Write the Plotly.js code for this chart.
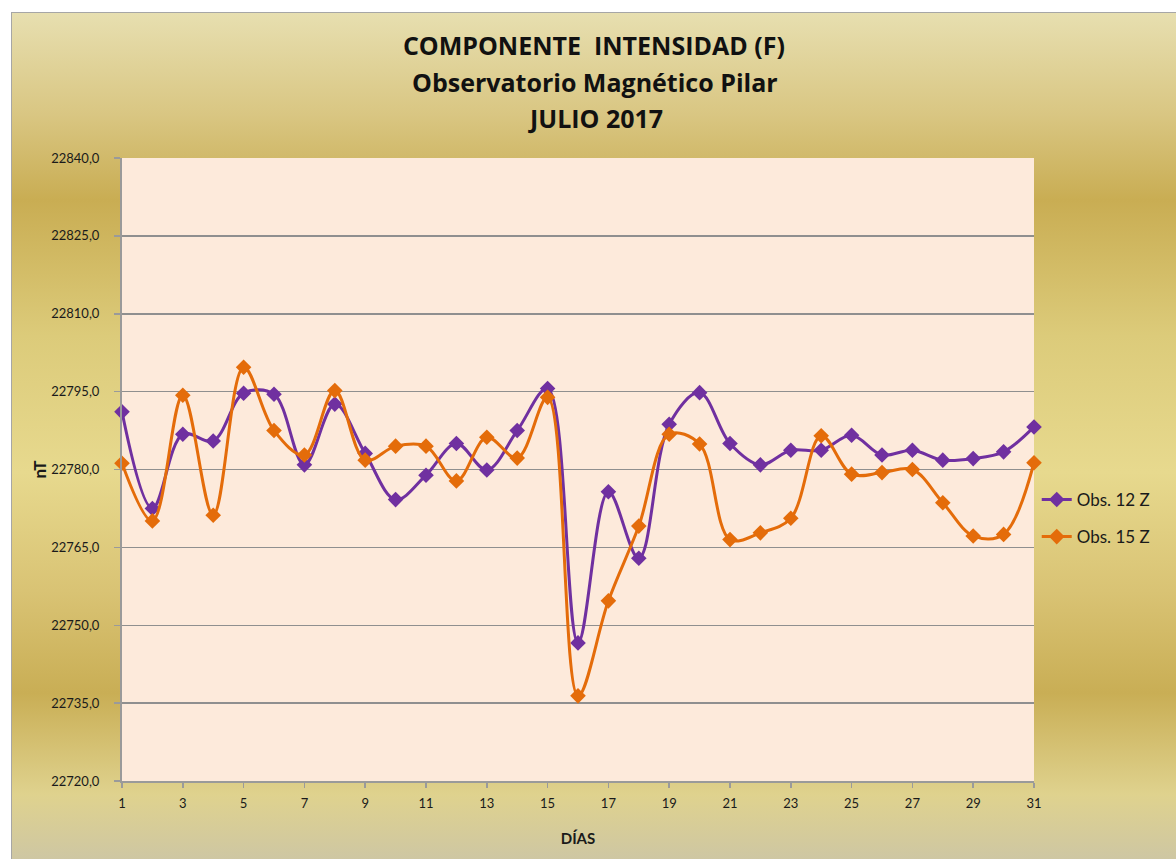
<!DOCTYPE html>
<html>
<head>
<meta charset="utf-8">
<script src="https://cdn.plot.ly/plotly-3.0.1.min.js"></script>
<style>
  html, body { margin:0; padding:0; background:#ffffff; width:1176px; height:859px; overflow:hidden; }
  #bg { position:absolute; left:11px; top:12px; width:1170px; height:852px; border:1px solid #a6a6a6; box-sizing:border-box;
        background: linear-gradient(to bottom, #e7dfb0 0%, #d9c682 12%, #c9ad53 22%, #dccb7a 38%, #e7d98e 54%, #d9c374 68%, #c9ae55 80%, #dfd28e 92%, #cdc6a4 100%); }
  #chart { position:absolute; left:0; top:0; width:1176px; height:859px; }
</style>
</head>
<body>
<div id="bg"></div>
<div id="chart"></div>
<script>
const days = [1,2,3,4,5,6,7,8,9,10,11,12,13,14,15,16,17,18,19,20,21,22,23,24,25,26,27,28,29,30,31];
const obs12Z = [22791.1,22772.5,22786.8,22785.5,22794.7,22794.5,22780.9,22792.6,22783.1,22774.2,22778.9,22785.0,22779.9,22787.5,22795.6,22746.6,22775.7,22762.9,22788.7,22794.8,22785.0,22780.9,22783.7,22783.7,22786.6,22782.8,22783.7,22781.8,22782.1,22783.4,22788.2];
const obs15Z = [22781.2,22770.1,22794.3,22771.2,22799.7,22787.5,22782.8,22795.2,22781.8,22784.5,22784.5,22777.8,22786.2,22782.2,22793.9,22736.4,22754.7,22769.1,22786.8,22784.9,22766.5,22767.8,22770.6,22786.5,22779.1,22779.4,22780.0,22773.6,22767.2,22767.5,22781.3];
const seriesNames = ['Obs. 12 Z', 'Obs. 15 Z'];
const titleLines = ['COMPONENTE  INTENSIDAD (F)', 'Observatorio Magnético Pilar', 'JULIO 2017'];
const yTicks = [22720,22735,22750,22765,22780,22795,22810,22825,22840];
const xTicks = [1,3,5,7,9,11,13,15,17,19,21,23,25,27,29,31];

const font = 'Lato, "Open Sans", "DejaVu Sans", sans-serif';
const tfont = '"Open Sans", Lato, sans-serif';
const tsize = 25;
function trace(y, name, color, grp) {
  return {
    x: days, y: y, name: name, type: 'scatter', mode: 'lines+markers',
    legendgroup: grp, cliponaxis: false,
    line: { color: color, width: 3, shape: 'spline', smoothing: 1 },
    marker: { symbol: 'diamond', size: 12, color: color }
  };
}
const data = [
  trace(obs12Z, seriesNames[0], '#7030a0', 'a'),
  trace(obs15Z, seriesNames[1], '#e46c0a', 'b')
];
const layout = {
  width: 1176, height: 859,
  paper_bgcolor: 'rgba(0,0,0,0)',
  plot_bgcolor: '#fdeadb',
  separators: ',.',
  margin: { l: 122, r: 142, t: 158, b: 78 },
  font: { family: font, color: '#1a1a1a' },
  title: {
    text: '<b>' + titleLines[0] + '</b>',
    font: { family: tfont, size: tsize, color: '#111' },
    x: 0.505, xanchor: 'center', xref: 'container',
    y: 1 - 46 / 859, yanchor: 'middle', yref: 'container'
  },
  annotations: [
    { text: '<b>' + titleLines[1] + '</b>', xref: 'paper', yref: 'paper', x: (595 - 122) / 912, y: (781 - 82) / 623,
      xanchor: 'center', yanchor: 'middle', showarrow: false, font: { family: tfont, size: tsize, color: '#111' } },
    { text: '<b>' + titleLines[2] + '</b>', xref: 'paper', yref: 'paper', x: (595 - 122) / 912, y: (781 - 118) / 623,
      xanchor: 'center', yanchor: 'middle', showarrow: false, font: { family: tfont, size: tsize, color: '#111' } }
  ],
  xaxis: {
    range: [1, 31], tickvals: xTicks, ticktext: xTicks.map(String),
    showgrid: false, zeroline: false,
    showline: true, linecolor: '#9a9a9a', linewidth: 2,
    ticks: 'outside', ticklen: 5, tickcolor: '#9a9a9a', tickwidth: 1.5,
    ticklabelstandoff: 4,
    tickfont: { family: font, size: 13, color: '#1a1a1a' },
    title: { text: '<b>DÍAS</b>', font: { family: font, size: 15, color: '#1a1a1a' }, standoff: 24 }
  },
  yaxis: {
    range: [22720, 22840], tickvals: yTicks, tickformat: '.1f',
    showgrid: true, gridcolor: '#8f8f8f', gridwidth: 1.5, zeroline: false,
    showline: true, linecolor: '#9a9a9a', linewidth: 2,
    ticks: 'outside', ticklen: 6, tickcolor: '#9a9a9a', tickwidth: 1.5,
    ticklabelstandoff: 12,
    tickfont: { family: font, size: 13, color: '#1a1a1a' },
    title: { text: '<b>nT</b>', font: { family: font, size: 17, color: '#1a1a1a' }, standoff: 0 }
  },
  showlegend: true,
  legend: {
    x: 1.003, xanchor: 'left', y: 0.48, yanchor: 'top',
    bgcolor: 'rgba(0,0,0,0)', traceorder: 'grouped', tracegroupgap: 12,
    font: { family: font, size: 17, color: '#1a1a1a' }
  }
};
Plotly.newPlot('chart', data, layout, { displayModeBar: false, staticPlot: true });
</script>
</body>
</html>
